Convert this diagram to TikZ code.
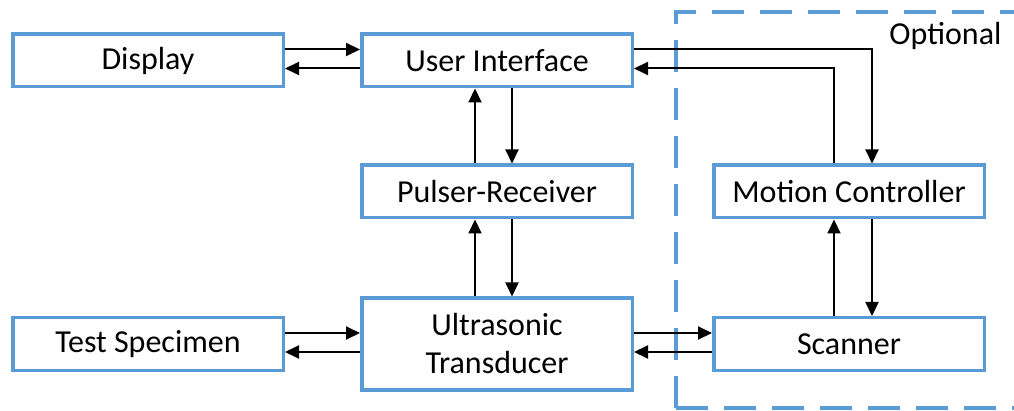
\documentclass[tikz,border=0pt]{standalone}
\usepackage{fontspec}
\setmainfont{Carlito}
\usetikzlibrary{positioning, arrows.meta}
\definecolor{boxblue}{HTML}{5B9BD5}

\begin{document}
\begin{tikzpicture}[x=1pt, y=-1pt,
 block/.style={draw=boxblue, line width=3.5pt, minimum width=270.5pt,
   minimum height=52.5pt, inner sep=0pt, align=center,
   font=\fontsize{32}{38}\selectfont},
 tall/.style={minimum height=91.5pt},
 link/.style={line width=2pt, -{Triangle[length=14pt,width=13pt]}},
 optional/.style={draw=boxblue, line width=3.5pt, dash pattern=on 32pt off 16pt}]

  \path[use as bounding box, clip] (0,0) rectangle (1014,411);

  % blocks
  \node[block] (display) at (148,60.5) {Display};
  \node[block] (ui) [right=75pt of display] {User Interface};
  \node[block] (pulser) [below=75pt of ui] {Pulser-Receiver};
  \node[block, tall] (transducer) [below=77pt of pulser] {Ultrasonic\\Transducer};
  \node[block] (specimen) [left=75pt of transducer] {Test Specimen};
  \node[block] (motion) [right=78pt of pulser] {Motion Controller};
  \node[block] (scanner) [right=78pt of transducer] {Scanner};

  % optional part
  \draw[optional] (676,408) -- (676,12) -- (1030,12);
  \draw[optional] (676,408) -- (1030,408);
  \node[anchor=east, font=\fontsize{32}{38}\selectfont] (optlabel) at (1005,36) {Optional};

  % side by side: upper arrow to the right, lower one back
  \foreach \l/\r in {display/ui, specimen/transducer, transducer/scanner} {
   \draw[link] ([yshift=11pt]\l.east) -- ([yshift=11pt]\l.east -| \r.west);
   \draw[link] ([yshift=-8pt]\l.east -| \r.west) -- ([yshift=-8pt]\l.east);}

  % stacked: up on the left, down on the right
  \foreach \t/\b/\u/\d in {ui/pulser/-22/15, pulser/transducer/-22/15, motion/scanner/-15/23} {
   \draw[link] ([xshift=\u pt]\b.north) -- ([xshift=\u pt]\b.north |- \t.south);
   \draw[link] ([xshift=\d pt]\t.south) -- ([xshift=\d pt]\t.south |- \b.north);}

  \draw[link] ([yshift=11pt]ui.east) -| ([xshift=23pt]motion.north);
  \draw[link] ([xshift=-15pt]motion.north) |- ([yshift=-8pt]ui.east);
\end{tikzpicture}
\end{document}
